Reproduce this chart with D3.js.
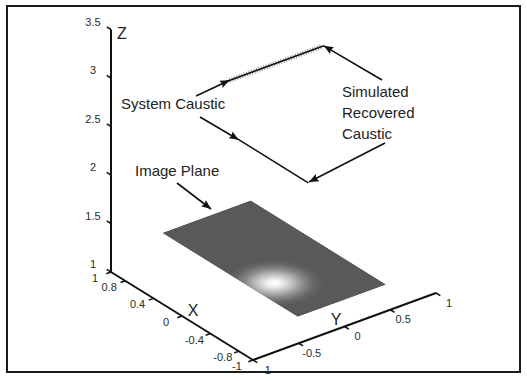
<!DOCTYPE html>
<html>
<head>
<meta charset="utf-8">
<script src="https://cdn.jsdelivr.net/npm/d3@7"></script>
<style>
  body { margin: 0; background: #fff; }
  svg text { font-family: "Liberation Sans", Arial, sans-serif; }
</style>
</head>
<body>
<svg id="chart" width="527" height="381"></svg>
<script>
// axis ticks
var xTicks = [1, 0.8, 0.4, 0, -0.4, -0.8, -1];
var yTicks = [-1, -0.5, 0, 0.5, 1];
var zTicks = [1, 1.5, 2, 2.5, 3, 3.5];

// image plane (z = planeZ), bright spot [x, y, radius]
var planeX = [0.94, -0.96];
var planeY = [-0.48, 0.48];
var planeZ = 1.25;
var spot = [-0.36, -0.27, 0.42];

// caustic lines, [x, y, z] end points
var systemUpper = [[0, -0.52, 3.25], [0, 0.55, 3.25]];
var systemLower = [[0.49, 0, 2.25], [-0.49, 0, 2.25]];
var recoveredUpper = [[0, -0.48, 3.25], [0, 0.52, 3.25]];

var svg = d3.select("#chart");

// oblique view: screen = corner + x*ux + y*uy, z via its own scale
var sxX = d3.scaleLinear().domain([1, -1]).range([0, 142]),
    syX = d3.scaleLinear().domain([1, -1]).range([0, 88]),
    sxY = d3.scaleLinear().domain([-1, 1]).range([0, 183]),
    syY = d3.scaleLinear().domain([-1, 1]).range([0, -67]),
    zS = d3.scaleLinear().domain([1, 3.5]).range([272, 29.5]);
var corner = 111;

function proj(p) {
  return [corner + sxX(p[0]) + sxY(p[1]), zS(p[2]) + syX(p[0]) + syY(p[1])];
}
var line = d3.line().x(function(d) { return proj(d)[0]; }).y(function(d) { return proj(d)[1]; });

svg.append("rect")
    .attr("x", 7).attr("y", 6).attr("width", 513).attr("height", 366)
    .attr("fill", "none").attr("stroke", "#1a1a1a").attr("stroke-width", 2);

var defs = svg.append("defs");
defs.append("marker")
    .attr("id", "arr").attr("viewBox", "0 0 12 10")
    .attr("refX", 12).attr("refY", 5)
    .attr("markerWidth", 10).attr("markerHeight", 8)
    .attr("markerUnits", "userSpaceOnUse")
    .attr("orient", "auto")
  .append("path").attr("d", "M0,0L12,5L0,10L2,5z").attr("fill", "#111");

// image plane
var planeCorners = [
  [planeX[0], planeY[0], planeZ], [planeX[0], planeY[1], planeZ],
  [planeX[1], planeY[1], planeZ], [planeX[1], planeY[0], planeZ]
];
var c = proj([spot[0], spot[1], planeZ]);
var ex = proj([spot[0] + spot[2], spot[1], planeZ]), ey = proj([spot[0], spot[1] + spot[2], planeZ]);
var grad = defs.append("radialGradient")
    .attr("id", "spot").attr("gradientUnits", "userSpaceOnUse")
    .attr("cx", 0).attr("cy", 0).attr("r", 1)
    .attr("gradientTransform", "matrix(" + [ex[0] - c[0], ex[1] - c[1], ey[0] - c[0], ey[1] - c[1], c[0], c[1]].join(",") + ")");
[[0, "#ffffff", 1], [0.12, "#f4f4f4", 1], [0.35, "#c4c4c4", 1], [0.6, "#8a8a8a", 1], [0.82, "#666666", 1], [1, "#595959", 1]]
  .forEach(function(s) {
    grad.append("stop").attr("offset", s[0]).attr("stop-color", s[1]).attr("stop-opacity", s[2]);
  });

svg.append("path").attr("d", line(planeCorners) + "Z").attr("fill", "#595959");
svg.append("path").attr("d", line(planeCorners) + "Z").attr("fill", "url(#spot)");

// axes
var ax = svg.append("g").attr("stroke", "#111").attr("stroke-width", 2).attr("fill", "none");
ax.append("path").attr("d", line([[1, -1, 1], [1, -1, 3.5]]));
ax.append("path").attr("d", line([[1, -1, 1], [-1, -1, 1]]));
ax.append("path").attr("d", line([[-1, -1, 1], [-1, 1, 1]]));

var tk = svg.append("g").attr("stroke", "#111").attr("stroke-width", 1.5);
zTicks.forEach(function(t) {
  var p = proj([1, -1, t]);
  tk.append("line").attr("x1", p[0]).attr("y1", p[1]).attr("x2", p[0] - 4.3).attr("y2", p[1] - 2.6);
});
xTicks.forEach(function(t) {
  var p = proj([t, -1, 1]);
  tk.append("line").attr("x1", p[0]).attr("y1", p[1]).attr("x2", p[0] - 4.7).attr("y2", p[1] + 1.7);
});
yTicks.forEach(function(t) {
  var p = proj([-1, t, 1]);
  tk.append("line").attr("x1", p[0]).attr("y1", p[1]).attr("x2", p[0] + 4.3).attr("y2", p[1] + 2.6);
});

var lab = svg.append("g").attr("font-size", 11).attr("fill", "#2a2a2a").attr("text-anchor", "middle").attr("dominant-baseline", "central");
zTicks.forEach(function(t) {
  var p = proj([1, -1, t]);
  lab.append("text").attr("x", p[0] - 18).attr("y", p[1] - 8).text(t);
});
xTicks.forEach(function(t) {
  var p = proj([t, -1, 1]);
  lab.append("text").attr("x", p[0] - 16).attr("y", p[1] + 6).text(t);
});
yTicks.forEach(function(t) {
  var p = proj([-1, t, 1]);
  lab.append("text").attr("x", p[0] + 13).attr("y", p[1] + 9.5).text(t);
});

var ttl = svg.append("g").attr("font-size", 16).attr("fill", "#222").attr("text-anchor", "middle")
    .attr("dominant-baseline", "central").style("font-family", "'Liberation Serif', 'Times New Roman', serif");
ttl.append("text").attr("x", 122).attr("y", 33).text("Z");
ttl.append("text").attr("x", 193).attr("y", 310).text("X");
ttl.append("text").attr("x", 336).attr("y", 319).text("Y");

// caustics
svg.append("path").attr("d", line(recoveredUpper))
    .attr("stroke", "#9a9a9a").attr("stroke-width", 5).attr("stroke-dasharray", "1,1.6").attr("fill", "none");
svg.append("path").attr("d", line(systemUpper)).attr("stroke", "#111").attr("stroke-width", 1.6).attr("fill", "none");
svg.append("path").attr("d", line(systemLower)).attr("stroke", "#111").attr("stroke-width", 1.6).attr("fill", "none");

// annotations
var notes = svg.append("g").attr("font-size", 15).attr("fill", "#222");
notes.append("text").attr("x", 121).attr("y", 109).text("System Caustic");
notes.append("text").attr("x", 135).attr("y", 176).text("Image Plane");
notes.append("text").attr("x", 342).attr("y", 97).text("Simulated");
notes.append("text").attr("x", 342).attr("y", 118).text("Recovered");
notes.append("text").attr("x", 342).attr("y", 139).text("Caustic");

var arrows = [
  [196, 96, proj(recoveredUpper[0])],
  [200, 117, proj(systemLower[0])],
  [177, 183, [211, 209]],
  [382, 80, proj(systemUpper[1])],
  [385, 143, [309, 182]]
];
var ar = svg.append("g").attr("stroke", "#111").attr("stroke-width", 1.6);
arrows.forEach(function(a) {
  ar.append("line").attr("x1", a[0]).attr("y1", a[1]).attr("x2", a[2][0]).attr("y2", a[2][1])
    .attr("marker-end", "url(#arr)");
});
</script>
</body>
</html>
